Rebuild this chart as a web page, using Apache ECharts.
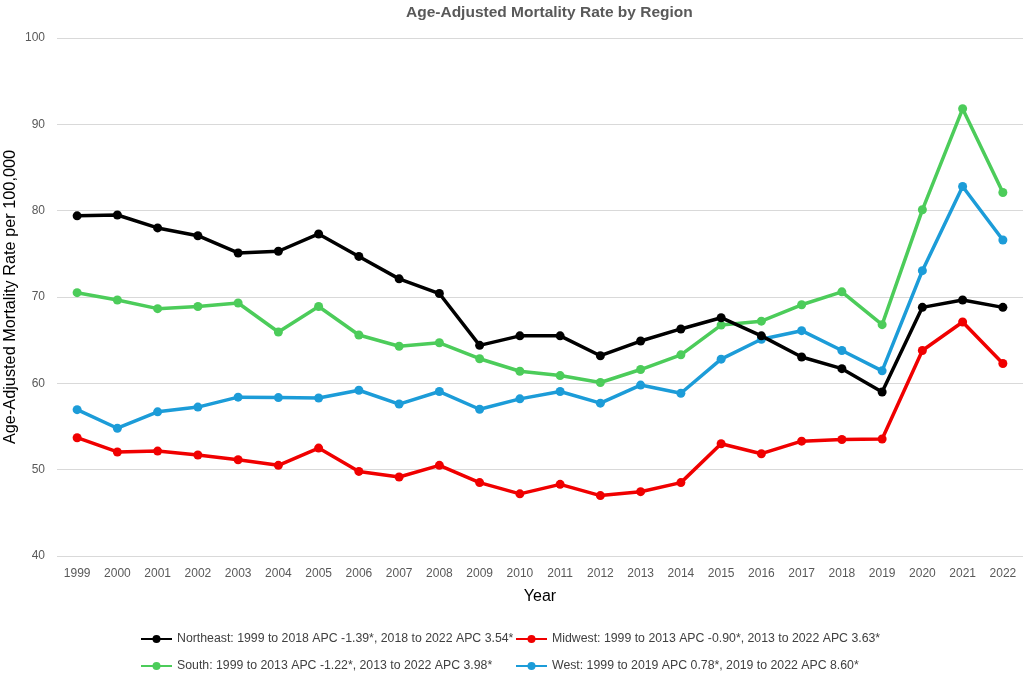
<!DOCTYPE html>
<html>
<head>
<meta charset="utf-8">
<script src="https://cdn.jsdelivr.net/npm/echarts@6/dist/echarts.min.js"></script>
<style>
html,body{margin:0;padding:0;background:#fff;}
#chart{width:1026px;height:676px;}
</style>
</head>
<body>
<div id="chart"></div>
<script>
const years = ['1999','2000','2001','2002','2003','2004','2005','2006','2007','2008','2009','2010','2011','2012','2013','2014','2015','2016','2017','2018','2019','2020','2021','2022'];
const northeast = [79.4,79.5,78.0,77.1,75.1,75.3,77.3,74.7,72.1,70.4,64.4,65.5,65.5,63.2,64.9,66.3,67.6,65.5,63.05,61.7,59.0,68.8,69.65,68.8];
const midwest = [53.7,52.05,52.15,51.7,51.15,50.5,52.5,49.8,49.15,50.5,48.5,47.2,48.3,47.0,47.45,48.5,53.0,51.85,53.3,53.5,53.55,63.8,67.1,62.3];
const south = [70.5,69.65,68.65,68.9,69.3,65.95,68.9,65.6,64.3,64.7,62.85,61.4,60.9,60.1,61.6,63.3,66.75,67.2,69.1,70.6,66.8,80.1,91.8,82.1];
const west = [56.95,54.8,56.7,57.25,58.4,58.35,58.3,59.2,57.6,59.05,57.0,58.2,59.05,57.7,59.8,58.85,62.8,65.1,66.1,63.8,61.45,73.05,82.8,76.6];
const seriesNames = [
  'Northeast: 1999 to 2018 APC -1.39*, 2018 to 2022 APC 3.54*',
  'Midwest: 1999 to 2013 APC -0.90*, 2013 to 2022 APC 3.63*',
  'South: 1999 to 2013 APC -1.22*, 2013 to 2022 APC 3.98*',
  'West: 1999 to 2019 APC 0.78*, 2019 to 2022 APC 8.60*'
];
const seriesData = [northeast, midwest, south, west];
const colors = ['#000000','#f00000','#4ccc5a','#1c9cd8'];
const FONT = "'Liberation Sans Narrow','Arial Narrow','Liberation Sans',sans-serif";

const chart = echarts.init(document.getElementById('chart'));
const legendPos = [
  {left:140, top:633},
  {left:515, top:633},
  {left:140, top:660},
  {left:515, top:660}
];
const option = {
  animation:false,
  title:{
    text:'Age-Adjusted Mortality Rate by Region',
    left:401, top:0,
    textStyle:{fontFamily:FONT,fontSize:15.5,fontWeight:'bold',color:'#595959'}
  },
  legend: seriesNames.map((n,i)=>({
    data:[n], left:legendPos[i].left, top:legendPos[i].top, padding:0,
    itemWidth:31, itemHeight:10, itemGap:4,
    textStyle:{fontFamily:FONT,fontSize:12.3,color:'#404040'}
  })),
  grid:{left:57,right:3,top:38,bottom:120,outerBoundsMode:'none',containLabel:false},
  xAxis:{
    type:'category', data:years, boundaryGap:true,
    name:'Year', nameLocation:'middle', nameGap:33, nameMoveOverlap:false,
    nameTextStyle:{fontFamily:FONT,fontSize:16,color:'#000'},
    axisLine:{show:false}, axisTick:{show:false},
    axisLabel:{fontFamily:FONT,fontSize:12,color:'#595959',margin:12}
  },
  yAxis:{
    type:'value', min:40, max:100, interval:10,
    name:'Age-Adjusted Mortality Rate per 100,000', nameLocation:'middle', nameGap:38, nameMoveOverlap:false,
    nameTextStyle:{fontFamily:FONT,fontSize:16.3,color:'#000'},
    axisLabel:{fontFamily:FONT,fontSize:12,color:'#595959',margin:12},
    splitLine:{lineStyle:{color:'#d9d9d9',width:1}}
  },
  series: seriesData.map((d,i)=>({
    name:seriesNames[i], type:'line', data:d,
    symbol:'circle', symbolSize:9,
    lineStyle:{width:3.5,color:colors[i]},
    itemStyle:{color:colors[i]},
    z:10-i
  }))
};
chart.setOption(option);
</script>
</body>
</html>
